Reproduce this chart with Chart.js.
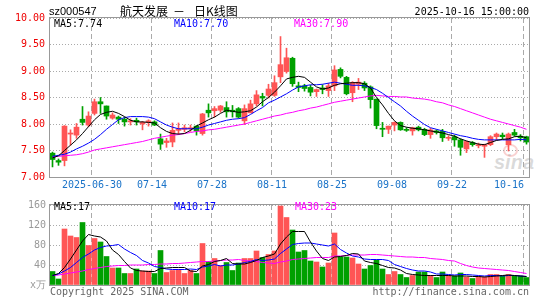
<!DOCTYPE html>
<html>
<head>
<meta charset="utf-8">
<script src="https://cdn.jsdelivr.net/npm/chart.js@4"></script>
<style>
  body { margin: 0; background: #fff; width: 545px; height: 300px; overflow: hidden; position: relative; }
  canvas { position: absolute; left: 0; z-index: 1; }
  .t { position: absolute; white-space: pre; font: 10px "DejaVu Sans Mono", monospace; line-height: 12px; z-index: 2; }
</style>
</head>
<body>
<div class="t" style="left:49px;top:5px;font:11px 'Liberation Sans',sans-serif;line-height:13px">sz000547</div>
<div class="t" style="left:120px;top:3px;font:12px 'Noto Sans CJK SC',sans-serif;line-height:15px">航天发展</div>
<div class="t" style="left:173px;top:3px;font:12px 'Noto Sans CJK SC',sans-serif;line-height:15px">－</div>
<div class="t" style="left:194px;top:3px;font:12px 'Noto Sans CJK SC',sans-serif;line-height:15px">日K线图</div>
<div class="t" style="right:16px;top:6px">2025-10-16 15:00:00</div>

<div class="t" id="ma5" style="left:54px;top:18px;color:#000"></div>
<div class="t" id="ma10" style="left:174px;top:18px;color:#00f"></div>
<div class="t" id="ma30" style="left:294px;top:18px;color:#f0f"></div>

<div class="t" id="vma5" style="left:54px;top:201px;color:#000"></div>
<div class="t" id="vma10" style="left:174px;top:201px;color:#00f"></div>
<div class="t" id="vma30" style="left:295px;top:201px;color:#f0f"></div>

<div class="t" style="left:50px;top:286px;color:#666">Copyright 2025 SINA.COM</div>
<div class="t" style="right:16px;top:286px;color:#666">http://finance.sina.com.cn</div>

<!-- sina watermark -->
<div style="position:absolute;left:503px;top:144px;width:11px;height:9px;border:2px solid rgba(240,140,140,0.4);border-radius:50%;z-index:0"></div>
<div style="position:absolute;left:494px;top:151px;font:italic bold 20px 'Liberation Sans',sans-serif;color:rgba(150,150,150,0.35);z-index:0">sina</div>

<canvas id="kline" width="545" height="195" style="top:0"></canvas>
<canvas id="volume" width="545" height="105" style="top:195px"></canvas>

<script>
// trading days shown
const days = ['2025-06-19','2025-06-20','2025-06-23','2025-06-24','2025-06-25','2025-06-26','2025-06-27','2025-06-30',
  '2025-07-01','2025-07-02','2025-07-03','2025-07-04','2025-07-07','2025-07-08','2025-07-09','2025-07-10','2025-07-11',
  '2025-07-14','2025-07-15','2025-07-16','2025-07-17','2025-07-18','2025-07-21','2025-07-22','2025-07-23','2025-07-24',
  '2025-07-25','2025-07-28','2025-07-29','2025-07-30','2025-07-31','2025-08-01','2025-08-04','2025-08-05','2025-08-06',
  '2025-08-07','2025-08-08','2025-08-11','2025-08-12','2025-08-13','2025-08-14','2025-08-15','2025-08-18','2025-08-19',
  '2025-08-20','2025-08-21','2025-08-22','2025-08-25','2025-08-26','2025-08-27','2025-08-28','2025-08-29','2025-09-01',
  '2025-09-02','2025-09-03','2025-09-04','2025-09-05','2025-09-08','2025-09-09','2025-09-10','2025-09-11','2025-09-12',
  '2025-09-15','2025-09-16','2025-09-17','2025-09-18','2025-09-19','2025-09-22','2025-09-23','2025-09-24','2025-09-25',
  '2025-09-26','2025-09-29','2025-09-30','2025-10-09','2025-10-10','2025-10-13','2025-10-14','2025-10-15','2025-10-16'];

const tickDates  = ['2025-06-30','2025-07-14','2025-07-28','2025-08-11','2025-08-25','2025-09-08','2025-09-22','2025-10-16'];
const tickLabels = ['2025-06-30','07-14','07-28','08-11','08-25','09-08','09-22','10-16'];

const open = [7.45,7.31,7.31,7.81,7.79,8.09,7.98,8.20,8.42,8.34, 8.11,8.13,8.09,8.04,8.07,8.00,8.03,8.04,7.72,7.65,
  7.66,7.88,7.90,7.91,7.96,7.82,8.26,8.25,8.26,8.31, 8.26,8.29,8.06,8.21,8.38,8.52,8.54,8.54,8.89,8.99,
  9.24,8.72,8.72,8.69,8.61,8.68,8.63,8.72,9.03,8.88, 8.59,8.75,8.77,8.70,8.47,7.92,7.90,7.98,8.03,7.90,
  7.87,7.94,7.90,7.80,7.87,7.86,7.73,7.76,7.70,7.53, 7.65,7.59,7.58,7.61,7.76,7.79,7.61,7.84,7.77,7.76];
const high = [7.47,7.34,7.97,7.89,8.01,8.33,8.23,8.47,8.50,8.34, 8.21,8.15,8.13,8.10,8.11,8.05,8.08,8.06,7.81,7.73,
  8.02,8.02,7.98,7.98,7.97,8.20,8.38,8.33,8.35,8.42, 8.35,8.31,8.36,8.45,8.63,8.58,8.75,8.91,9.65,9.43,
  9.26,8.79,8.75,8.73,8.66,8.74,8.77,9.10,9.06,8.90, 8.80,8.86,8.80,8.72,8.47,8.03,7.96,8.04,8.04,7.93,
  7.94,7.96,7.92,7.92,7.89,7.90,7.78,7.79,7.72,7.68, 7.67,7.64,7.62,7.78,7.83,7.83,7.83,7.90,7.80,7.77];
const low = [7.19,7.22,7.21,7.60,7.73,7.98,7.95,8.17,8.20,8.09, 8.09,8.01,7.96,7.98,7.98,7.89,7.96,7.97,7.52,7.56,
  7.57,7.80,7.85,7.86,7.79,7.79,8.13,8.13,8.22,8.13, 8.13,8.11,7.99,8.21,8.34,8.34,8.49,8.52,8.78,8.96,
  8.71,8.61,8.62,8.53,8.52,8.57,8.52,8.63,8.87,8.55, 8.42,8.65,8.63,8.30,7.91,7.76,7.82,7.87,7.88,7.86,
  7.79,7.87,7.78,7.73,7.81,7.67,7.69,7.58,7.41,7.46, 7.58,7.55,7.37,7.59,7.70,7.72,7.49,7.77,7.68,7.62];
const close = [7.33,7.28,7.96,7.83,7.94,8.03,8.15,8.42,8.38,8.15, 8.17,8.09,8.04,8.06,8.04,8.03,8.06,7.98,7.62,7.68,
  7.88,7.91,7.93,7.93,7.87,8.19,8.21,8.29,8.34,8.23, 8.23,8.13,8.29,8.38,8.55,8.49,8.66,8.78,9.12,9.25,
  8.76,8.69,8.67,8.60,8.65,8.65,8.72,9.02,8.90,8.57, 8.78,8.79,8.68,8.46,7.97,7.90,7.96,8.03,7.89,7.88,
  7.93,7.89,7.80,7.89,7.84,7.74,7.74,7.70,7.56,7.67, 7.61,7.60,7.61,7.76,7.81,7.76,7.81,7.79,7.74,7.66];

const ma5 = [7.36,7.40,7.50,7.60,7.70,7.82,7.95,8.08,8.18,8.22, 8.24,8.20,8.14,8.07,8.04,8.04,8.03,8.02,7.93,7.86,
  7.82,7.81,7.82,7.88,7.96,8.02,8.08,8.13,8.20,8.26, 8.24,8.22,8.23,8.25,8.32,8.42,8.50,8.60,8.72,8.85,
  8.88,8.90,8.88,8.79,8.70,8.66,8.68,8.73,8.76,8.77, 8.78,8.78,8.76,8.68,8.50,8.36,8.20,8.06,7.97,7.94,
  7.92,7.91,7.89,7.87,7.85,7.83,7.80,7.77,7.72,7.68, 7.65,7.62,7.61,7.65,7.69,7.71,7.72,7.76,7.77,7.74];
const ma10 = [7.39,7.41,7.43,7.47,7.53,7.58,7.64,7.71,7.80,7.90, 7.99,8.08,8.12,8.14,8.14,8.14,8.13,8.10,8.04,7.98,
  7.94,7.91,7.91,7.91,7.91,7.94,7.98,8.01,8.04,8.07, 8.09,8.10,8.12,8.18,8.25,8.31,8.40,8.45,8.51,8.57,
  8.64,8.70,8.72,8.74,8.74,8.75,8.77,8.79,8.77,8.75, 8.73,8.73,8.72,8.69,8.65,8.58,8.50,8.42,8.34,8.24,
  8.15,8.07,7.99,7.93,7.90,7.87,7.84,7.81,7.78,7.76, 7.73,7.71,7.70,7.70,7.70,7.70,7.70,7.70,7.71,7.70];
const ma30 = [7.38,7.39,7.40,7.41,7.42,7.44,7.47,7.51,7.53,7.55, 7.57,7.59,7.61,7.63,7.65,7.67,7.70,7.73,7.75,7.77,
  7.79,7.80,7.82,7.84,7.86,7.87,7.89,7.90,7.92,7.94, 7.96,7.98,8.00,8.03,8.06,8.09,8.12,8.15,8.17,8.20,
  8.22,8.25,8.27,8.30,8.32,8.35,8.38,8.41,8.43,8.45, 8.47,8.49,8.51,8.53,8.54,8.53,8.52,8.52,8.51,8.51,
  8.49,8.48,8.47,8.45,8.42,8.40,8.36,8.33,8.29,8.25, 8.21,8.17,8.13,8.09,8.06,8.03,8.00,7.97,7.94,7.90];

// volume, 万手
const vol = [27,12,112,98,95,125,79,93,86,57, 34,34,23,23,32,28,28,23,69,25,
  29,31,23,29,23,83,47,53,39,45, 29,44,53,53,68,55,61,68,158,135,
  110,66,69,48,46,36,44,104,56,56, 54,42,32,39,50,32,21,27,21,15,
  19,26,26,19,15,26,19,18,24,16, 13,17,16,21,21,18,21,18,18,15];
const vma5 = [19,23,35,52,70,88,101,98,96,88, 70,61,47,34,29,28,27,27,33,34,
  35,35,35,28,27,38,41,47,49,53, 43,42,42,45,49,55,58,62,82,96,
  107,107,107,86,68,53,49,56,57,59, 63,62,48,45,43,39,35,34,30,23,
  21,20,19,19,19,19,19,18,18,18, 17,17,16,17,18,19,20,19,18,17];
const vma10 = [19,22,28,35,45,55,62,70,75,78, 79,81,72,65,59,49,44,37,35,32,
  31,31,31,32,31,36,38,41,38,40, 40,42,45,47,51,49,50,52,63,72,
  81,83,84,84,82,80,78,82,71,64, 58,56,52,51,51,51,49,41,37,33,
  30,28,28,26,22,22,21,20,21,21, 20,19,18,19,19,18,19,19,18,17];
const vma30 = [19,20,22,24,26,28,31,33,35,37, 38,39,39,40,40,40,41,41,42,42,
  43,43,44,45,46,47,47,48,49,50, 50,51,49,48,47,45,44,43,46,48,
  51,52,53,54,55,55,55,58,58,59, 60,60,60,61,61,60,59,58,57,56,
  56,55,55,53,52,51,49,48,43,39, 36,34,33,32,31,30,29,27,25,23];

const UP = '#ff5555', DOWN = '#00a000';
const MONO = '"DejaVu Sans Mono", monospace';
const last = a => a[a.length - 1];

document.getElementById('ma5').textContent = 'MA5:' + last(ma5).toFixed(2);
document.getElementById('ma10').textContent = 'MA10:' + last(ma10).toFixed(2);
document.getElementById('ma30').textContent = 'MA30:' + last(ma30).toFixed(2);
document.getElementById('vma5').textContent = 'MA5:' + last(vma5);
document.getElementById('vma10').textContent = 'MA10:' + last(vma10);
document.getElementById('vma30').textContent = 'MA30:' + last(vma30);

const colors = close.map((c, i) => c >= open[i] ? UP : DOWN);
const pts = arr => arr.map((v, i) => ({ x: i, y: v }));
const HALF = 0.4167; // half a day slot, so a bar's left edge sits on the date grid line
const nGrid = tickDates.length;

// solid frame round the plot, like sina's
const frame = {
  id: 'frame',
  afterDraw(chart) {
    const { ctx, chartArea: a } = chart;
    ctx.save();
    ctx.strokeStyle = '#999';
    ctx.lineWidth = 1;
    ctx.strokeRect(a.left - 0.5, a.top - 0.5, a.right - a.left + 1, a.bottom - a.top + 1);
    ctx.restore();
  }
};

// grid ticks on the dates; the last label sits left of its line (ends at it)
function buildTicks(s) {
  const t = tickDates.map(d => ({ value: days.indexOf(d) - HALF }));
  t.push({ value: t[nGrid - 1].value - 2.5 });
  s.ticks = t;
}

function xScale(showLabels, h) {
  return {
    type: 'linear',
    offset: false,
    min: -HALF,
    max: days.length - 1 + HALF,
    afterBuildTicks: buildTicks,
    afterFit: s => { s.height = h; },
    ticks: {
      display: showLabels, autoSkip: false, maxRotation: 0, padding: 2,
      color: '#1a73c8', font: { family: MONO, size: 10 },
      callback: (v, i) => i < nGrid - 1 ? tickLabels[i] : (i === nGrid ? tickLabels[nGrid - 1] : '')
    },
    grid: { color: c => c.index < nGrid ? '#aaa' : 'rgba(0,0,0,0)', drawTicks: false, offset: false },
    border: { display: false, dash: [5, 3] }
  };
}

const line = (data, color) => ({
  type: 'line', data: pts(data), borderColor: color, borderWidth: 1,
  pointRadius: 0, tension: 0, order: 1
});

new Chart(document.getElementById('kline'), {
  type: 'bar',
  data: {
    datasets: [
      { data: low.map((l, i) => ({ x: i, y: [l, high[i]] })), backgroundColor: colors,
        barThickness: 1, grouped: false, order: 3 },
      { data: open.map((o, i) => ({ x: i, y: [o, close[i]] })), backgroundColor: colors,
        barThickness: 5, minBarLength: 1, grouped: false, order: 2 },
      line(ma5, '#000'),
      line(ma10, '#00f'),
      line(ma30, '#f0f')
    ]
  },
  options: {
    responsive: false, animation: false, devicePixelRatio: 1,
    layout: { padding: { top: 18, right: 16, left: 0, bottom: 0 } },
    plugins: { legend: { display: false }, tooltip: { enabled: false } },
    scales: {
      x: xScale(true, 18),
      y: {
        min: 7, max: 10,
        afterFit: s => { s.width = 50; },
        ticks: { stepSize: 0.5, padding: 5, color: '#e00', font: { family: MONO, size: 10 },
                 callback: v => v.toFixed(2) },
        grid: { color: '#aaa', drawTicks: false },
        border: { display: false, dash: [1, 2] }
      }
    }
  },
  plugins: [frame]
});

new Chart(document.getElementById('volume'), {
  type: 'bar',
  data: {
    datasets: [
      { data: pts(vol), backgroundColor: colors, barThickness: 5, grouped: false, order: 2 },
      line(vma5, '#000'),
      line(vma10, '#00f'),
      line(vma30, '#f0f')
    ]
  },
  options: {
    responsive: false, animation: false, devicePixelRatio: 1,
    layout: { padding: { top: 6, right: 16, left: 0, bottom: 0 } },
    plugins: { legend: { display: false }, tooltip: { enabled: false } },
    scales: {
      x: xScale(false, 15),
      y: {
        min: 0, max: 160,
        afterFit: s => { s.width = 50; },
        ticks: { stepSize: 40, padding: 4, color: '#999', font: { family: MONO, size: 10 },
                 callback: v => v === 0 ? 'x万' : v },
        grid: { color: '#aaa', drawTicks: false },
        border: { display: false, dash: [1, 2] }
      }
    }
  },
  plugins: [frame]
});
</script>
</body>
</html>
